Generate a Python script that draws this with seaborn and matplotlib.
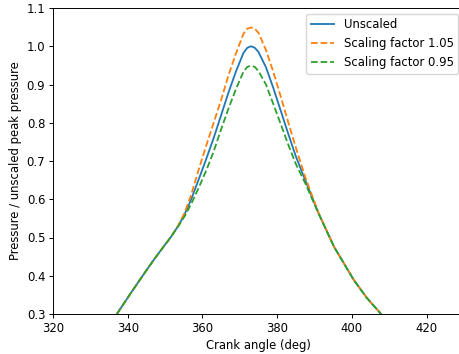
import pandas as pd
import seaborn as sns
import matplotlib
matplotlib.use('Agg')
import matplotlib.pyplot as plt

# crank angle (deg) and normalised pressure
angle_base = [337.1, 340.5, 344.0, 347.0, 349.9, 351.6, 353.5, 355.2, 357.0, 359.0,
              361.0, 363.0, 365.0, 367.0, 369.0, 371.0, 372.0, 373.0, 374.0, 375.0,
              377.0, 379.0, 381.0, 383.0, 385.0, 387.5, 391.0, 395.2, 400.5, 404.0, 407.8]
p_unscaled = [0.300, 0.350, 0.400, 0.442, 0.480, 0.502, 0.530, 0.560, 0.600, 0.652,
              0.705, 0.760, 0.820, 0.880, 0.935, 0.983, 0.996, 1.000, 0.996, 0.985,
              0.945, 0.890, 0.830, 0.770, 0.712, 0.650, 0.565, 0.476, 0.389, 0.342, 0.300]
p_scale_105 = [0.300, 0.350, 0.400, 0.442, 0.480, 0.502, 0.531, 0.564, 0.612, 0.678,
               0.740, 0.800, 0.860, 0.925, 0.982, 1.033, 1.046, 1.049, 1.046, 1.035,
               0.990, 0.932, 0.867, 0.800, 0.735, 0.658, 0.566, 0.476, 0.389, 0.342, 0.300]
p_scale_095 = [0.300, 0.350, 0.400, 0.442, 0.480, 0.502, 0.529, 0.555, 0.588, 0.630,
               0.675, 0.725, 0.783, 0.838, 0.889, 0.934, 0.946, 0.949, 0.946, 0.935,
               0.900, 0.848, 0.795, 0.742, 0.692, 0.642, 0.564, 0.476, 0.389, 0.342, 0.300]

labels = ['Unscaled', 'Scaling factor 1.05', 'Scaling factor 0.95']
series = [p_unscaled, p_scale_105, p_scale_095]

frames = []
for name, vals in zip(labels, series):
    frames.append(pd.DataFrame({'angle': angle_base, 'pressure': vals, 'case': name}))
df = pd.concat(frames, ignore_index=True)

plt.rcParams['font.size'] = 8.4
plt.rcParams['axes.linewidth'] = 0.7
for ax_name in ['xtick', 'ytick']:
    plt.rcParams[ax_name + '.major.size'] = 2.6
    plt.rcParams[ax_name + '.major.width'] = 0.7
    plt.rcParams[ax_name + '.major.pad'] = 2.9

fig = plt.figure(figsize=(4.6, 3.54), dpi=100)
ax = fig.add_axes([53 / 460, 40 / 354, 411 / 460, 306 / 354])

palette = {'Unscaled': '#1f77b4', 'Scaling factor 1.05': '#ff7f0e', 'Scaling factor 0.95': '#2ca02c'}
dashes = {'Unscaled': '', 'Scaling factor 1.05': (3.7, 1.6), 'Scaling factor 0.95': (3.7, 1.6)}
sns.lineplot(data=df, x='angle', y='pressure', hue='case', style='case',
             hue_order=labels, style_order=labels, palette=palette, dashes=dashes,
             estimator=None, sort=False, linewidth=1.3, ax=ax)

ax.set_xlim(320, 430)
ax.set_ylim(0.3, 1.1)
ax.set_xticks([320, 340, 360, 380, 400, 420])
ax.set_yticks([0.3, 0.4, 0.5, 0.6, 0.7, 0.8, 0.9, 1.0, 1.1])
ax.set_xlabel('Crank angle (deg)', labelpad=2.9)
ax.set_ylabel('Pressure / unscaled peak pressure', labelpad=3.5)

handles, labs = ax.get_legend_handles_labels()
ax.legend(handles, labs, loc='upper right')

fig.savefig('out.png', dpi=100)
